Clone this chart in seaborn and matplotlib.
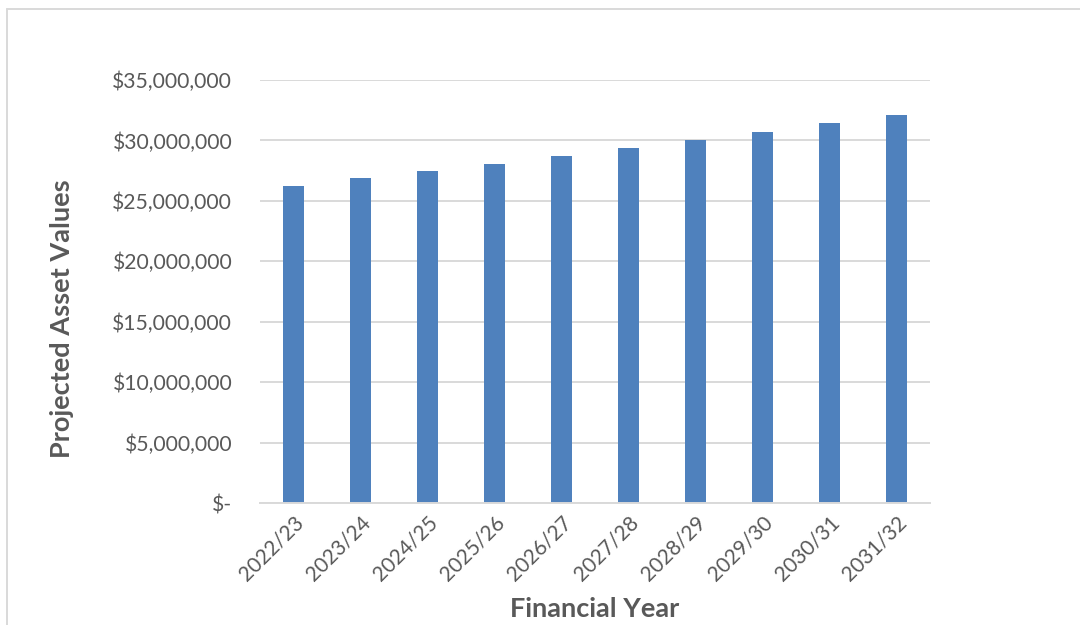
import matplotlib
matplotlib.use("Agg")
import matplotlib.pyplot as plt
import matplotlib.ticker as mticker
from matplotlib.lines import Line2D
import seaborn as sns
import pandas as pd

# Projected asset values by financial year
years = ["2022/23", "2023/24", "2024/25", "2025/26", "2026/27",
         "2027/28", "2028/29", "2029/30", "2030/31", "2031/32"]
values = [26270000, 26850000, 27460000, 28060000, 28700000,
          29360000, 30030000, 30690000, 31410000, 32090000]
y_ticks = [0, 5000000, 10000000, 15000000, 20000000, 25000000, 30000000, 35000000]

df = pd.DataFrame({"year": years, "value": values})

sns.set_theme(style="white")
plt.rcParams["font.family"] = ["Lato", "DejaVu Sans"]

fig = plt.figure(figsize=(10.8, 6.25), dpi=100)
ax = fig.add_axes([260 / 1080, (625 - 503) / 625, 670 / 1080, 423 / 625])

sns.barplot(data=df, x="year", y="value", color="#4f81bd", saturation=1,
            width=0.31, ax=ax, edgecolor="none")

ax.set_xlim(-0.5, len(years) - 0.5)
ax.set_ylim(0, 35000000)
ax.set_yticks(y_ticks)


def money(v, pos):
    if v == 0:
        return "$-"
    return "${:,.0f}".format(v)


ax.yaxis.set_major_formatter(mticker.FuncFormatter(money))
ax.grid(axis="y", color="#d9d9d9", linewidth=1.4)
ax.set_axisbelow(True)
for side in ["top", "right", "left"]:
    ax.spines[side].set_visible(False)
ax.spines["bottom"].set_color("#d9d9d9")
ax.spines["bottom"].set_linewidth(1.4)

ax.tick_params(axis="y", labelsize=15.2, colors="#595959", length=0, pad=20)
ax.tick_params(axis="x", labelsize=15, colors="#595959", length=0, pad=7)
for lbl in ax.get_xticklabels():
    lbl.set_rotation(45)
    lbl.set_ha("right")
    lbl.set_rotation_mode("anchor")

ax.set_xlabel("Financial Year", fontsize=19.5, fontweight="bold", color="#595959")
ax.set_ylabel("Projected Asset Values", fontsize=19.5, fontweight="bold", color="#595959")
ax.xaxis.label.set_va("center")
ax.yaxis.label.set_va("center")
ax.xaxis.set_label_coords((595 - 260) / 670, (503 - 609) / 423)
ax.yaxis.set_label_coords((62 - 260) / 670, 0.5 - 27 / 423)

# light frame around the chart area
fig.add_artist(Line2D([7 / 1080, 7 / 1080], [0, 1 - 8.5 / 625], transform=fig.transFigure,
                      color="#d9d9d9", linewidth=1.4))
fig.add_artist(Line2D([7 / 1080, 1], [1 - 8.5 / 625, 1 - 8.5 / 625], transform=fig.transFigure,
                      color="#d9d9d9", linewidth=1.4))

fig.savefig("out.png", dpi=100, facecolor="white")
